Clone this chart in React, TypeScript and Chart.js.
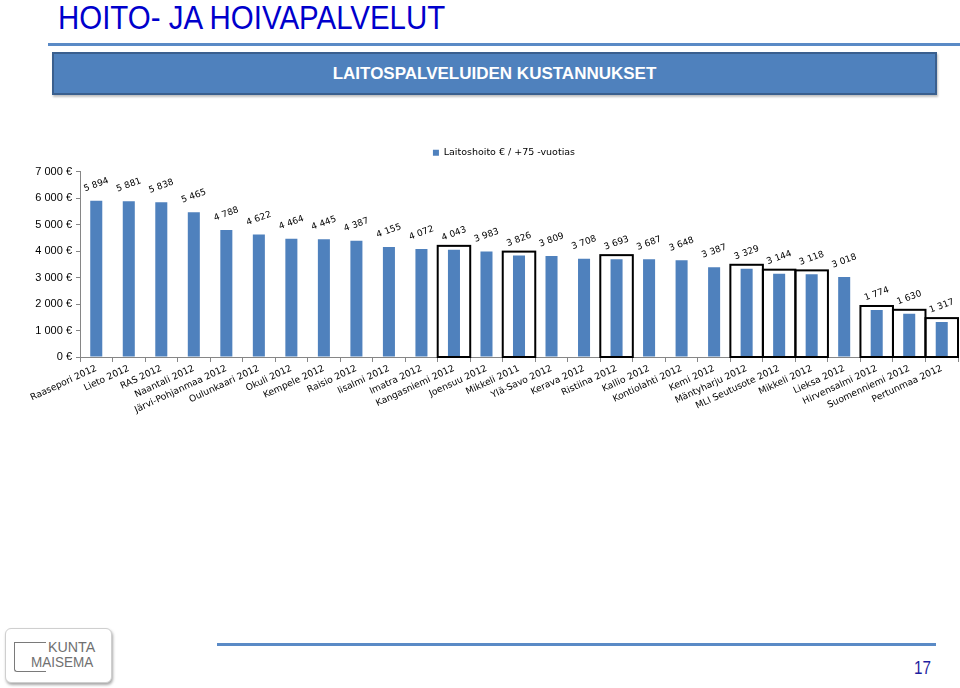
import React, { useEffect, useRef } from 'react';
import { Chart, registerables } from 'chart.js';

Chart.register(...registerables);

const FONT = '"Liberation Sans", Arial, sans-serif';
const LABEL_FONT = '"DejaVu Sans", Verdana, sans-serif';

const categories = [
  'Raasepori 2012', 'Lieto 2012', 'RAS 2012', 'Naantali 2012', 'Järvi-Pohjanmaa 2012',
  'Oulunkaari 2012', 'Okuli 2012', 'Kempele 2012', 'Raisio 2012', 'Iisalmi 2012',
  'Imatra 2012', 'Kangasniemi 2012', 'Joensuu 2012', 'Mikkeli 2011', 'Ylä-Savo 2012',
  'Kerava 2012', 'Ristiina 2012', 'Kallio 2012', 'Kontiolahti 2012', 'Kemi 2012',
  'Mäntyharju 2012', 'MLI Seutusote 2012', 'Mikkeli 2012', 'Lieksa 2012', 'Hirvensalmi 2012',
  'Suomenniemi 2012', 'Pertunmaa 2012',
];

const values = [
  5894, 5881, 5838, 5465, 4788, 4622, 4464, 4445, 4387, 4155, 4072, 4043, 3983, 3826,
  3809, 3708, 3693, 3687, 3648, 3387, 3329, 3144, 3118, 3018, 1774, 1630, 1317,
];

const valueLabels = [
  '5 894', '5 881', '5 838', '5 465', '4 788', '4 622', '4 464', '4 445', '4 387', '4 155',
  '4 072', '4 043', '3 983', '3 826', '3 809', '3 708', '3 693', '3 687', '3 648', '3 387',
  '3 329', '3 144', '3 118', '3 018', '1 774', '1 630', '1 317',
];

const highlighted = [
  'Kangasniemi 2012', 'Mikkeli 2011', 'Ristiina 2012', 'Mäntyharju 2012', 'MLI Seutusote 2012',
  'Mikkeli 2012', 'Hirvensalmi 2012', 'Suomenniemi 2012', 'Pertunmaa 2012',
];

const yTickLabels = ['0 €', '1 000 €', '2 000 €', '3 000 €', '4 000 €', '5 000 €', '6 000 €', '7 000 €'];

const seriesName = 'Laitoshoito € / +75 -vuotias';

const legendShift = {
  id: 'legendShift',
  afterLayout(chart: any) {
    const l = chart.legend;
    if (!l) return;
    l.left += 25;
    l.right += 25;
    l.top -= 4;
    l.bottom -= 4;
  },
};

const highlightPlugin = {
  id: 'highlightBoxes',
  afterDatasetsDraw(chart: any) {
    const xs = chart.scales.x;
    const ys = chart.scales.y;
    const ctx = chart.ctx;
    const half = (xs.getPixelForValue(1) - xs.getPixelForValue(0)) / 2;
    ctx.save();
    ctx.strokeStyle = '#000';
    ctx.lineWidth = 2;
    categories.forEach((c, i) => {
      if (!highlighted.includes(c)) return;
      const cx = xs.getPixelForValue(i);
      const top = ys.getPixelForValue(values[i]) - 4;
      const bottom = ys.getPixelForValue(0);
      ctx.strokeRect(cx - half, top, 2 * half, bottom - top);
    });
    ctx.restore();
  },
};

const valueLabelPlugin = {
  id: 'valueLabels',
  afterDatasetsDraw(chart: any) {
    const ctx = chart.ctx;
    const meta = chart.getDatasetMeta(0);
    ctx.save();
    ctx.font = '9px ' + LABEL_FONT;
    ctx.fillStyle = '#000';
    ctx.textAlign = 'center';
    ctx.textBaseline = 'middle';
    meta.data.forEach((bar: any, i: number) => {
      ctx.save();
      ctx.translate(bar.x, bar.y - 16);
      ctx.rotate((-20 * Math.PI) / 180);
      ctx.fillText(valueLabels[i], 0, 0);
      ctx.restore();
    });
    ctx.restore();
  },
};

function BarChart() {
  const ref = useRef<HTMLCanvasElement | null>(null);
  useEffect(() => {
    if (!ref.current) return;
    const chart = new Chart(ref.current, {
      type: 'bar',
      data: {
        labels: categories,
        datasets: [
          {
            label: seriesName,
            data: values,
            backgroundColor: '#4F81BD',
            borderWidth: 0,
            barPercentage: 0.37,
            categoryPercentage: 1,
          },
        ],
      },
      options: {
        animation: false,
        responsive: false,
        maintainAspectRatio: false,
        layout: { padding: { left: 0, right: 2, top: 0, bottom: 0 } },
        plugins: {
          legend: {
            display: true,
            position: 'top',
            labels: {
              boxWidth: 6,
              boxHeight: 6,
              padding: 10,
              color: '#000',
              font: { size: 9.5, family: LABEL_FONT },
            },
          },
          tooltip: { enabled: false },
        },
        scales: {
          x: {
            grid: {
              display: true,
              drawOnChartArea: false,
              drawTicks: true,
              tickLength: 5,
              color: '#868686',
              offset: true,
            },
            border: { display: true, color: '#868686' },
            ticks: {
              autoSkip: false,
              maxRotation: 25,
              minRotation: 25,
              padding: 1,
              color: '#000',
              font: { size: 9.2, family: LABEL_FONT },
            },
            afterFit: (s: any) => {
              s.height = 80;
            },
          },
          y: {
            min: 0,
            max: 7000,
            ticks: {
              stepSize: 1000,
              padding: 4,
              color: '#000',
              font: { size: 11, family: FONT },
              callback: (v: any) => yTickLabels[Math.round(Number(v) / 1000)],
            },
            grid: { drawOnChartArea: false, drawTicks: true, tickLength: 4, color: '#868686' },
            border: { display: true, color: '#868686' },
            afterFit: (s: any) => {
              s.width = 80;
            },
          },
        },
      } as any,
      plugins: [legendShift, highlightPlugin, valueLabelPlugin],
    });
    return () => chart.destroy();
  }, []);
  return (
    <canvas
      ref={ref}
      width={960}
      height={295}
      style={{ position: 'absolute', left: 0, top: 142, width: 960, height: 295 }}
    />
  );
}

export default function App() {
  useEffect(() => {
    document.body.style.margin = '0';
  }, []);
  return (
    <div style={{ position: 'relative', width: 960, height: 688, overflow: 'hidden', background: '#fff', fontFamily: FONT }}>
      <div
        style={{
          position: 'absolute',
          left: 58,
          top: 0,
          fontSize: 34,
          lineHeight: '34px',
          color: '#0000CC',
          whiteSpace: 'nowrap',
          transform: 'scaleX(0.866)',
          transformOrigin: 'left top',
        }}
      >
        HOITO- JA HOIVAPALVELUT
      </div>
      <div style={{ position: 'absolute', left: 48, top: 43, width: 912, height: 3, background: '#5A8AC6' }} />
      <div
        style={{
          position: 'absolute',
          left: 52,
          top: 52,
          width: 885,
          height: 43,
          boxSizing: 'border-box',
          background: '#4F81BD',
          border: '2px solid #3A5F8E',
          boxShadow: '1px 2px 2px rgba(0,0,0,0.25)',
          display: 'flex',
          alignItems: 'center',
          justifyContent: 'center',
          color: '#fff',
          fontWeight: 'bold',
          fontSize: 17,
          whiteSpace: 'nowrap',
        }}
      >
        LAITOSPALVELUIDEN KUSTANNUKSET
      </div>
      <BarChart />
      <div
        style={{
          position: 'absolute',
          left: 5,
          top: 628,
          width: 107,
          height: 55,
          boxSizing: 'border-box',
          border: '1px solid #cfcfcf',
          borderRadius: 6,
          boxShadow: '1px 2px 3px rgba(0,0,0,0.35)',
          background: '#fff',
        }}
      />
      <div
        style={{
          position: 'absolute',
          left: 14,
          top: 642,
          width: 32,
          height: 30,
          boxSizing: 'border-box',
          borderLeft: '1.5px solid #7a7a7a',
          borderTop: '1.5px solid #7a7a7a',
          borderBottom: '1.5px solid #7a7a7a',
          borderRadius: '0 0 0 3px',
        }}
      />
      <div
        style={{
          position: 'absolute',
          left: 48,
          top: 639,
          fontSize: 15,
          lineHeight: '15px',
          color: '#707070',
          whiteSpace: 'nowrap',
          transform: 'scaleX(0.95)',
          transformOrigin: 'left top',
        }}
      >
        KUNTA
      </div>
      <div
        style={{
          position: 'absolute',
          left: 31,
          top: 654,
          fontSize: 15,
          lineHeight: '15px',
          color: '#707070',
          whiteSpace: 'nowrap',
          transform: 'scaleX(0.9)',
          transformOrigin: 'left top',
        }}
      >
        MAISEMA
      </div>
      <div style={{ position: 'absolute', left: 217, top: 643, width: 719, height: 3, background: '#5A8AC6' }} />
      <div
        style={{
          position: 'absolute',
          left: 914,
          top: 659,
          fontSize: 18,
          lineHeight: '18px',
          color: '#1F1FA0',
          whiteSpace: 'nowrap',
          transform: 'scaleX(0.85)',
          transformOrigin: 'left top',
        }}
      >
        17
      </div>
    </div>
  );
}
